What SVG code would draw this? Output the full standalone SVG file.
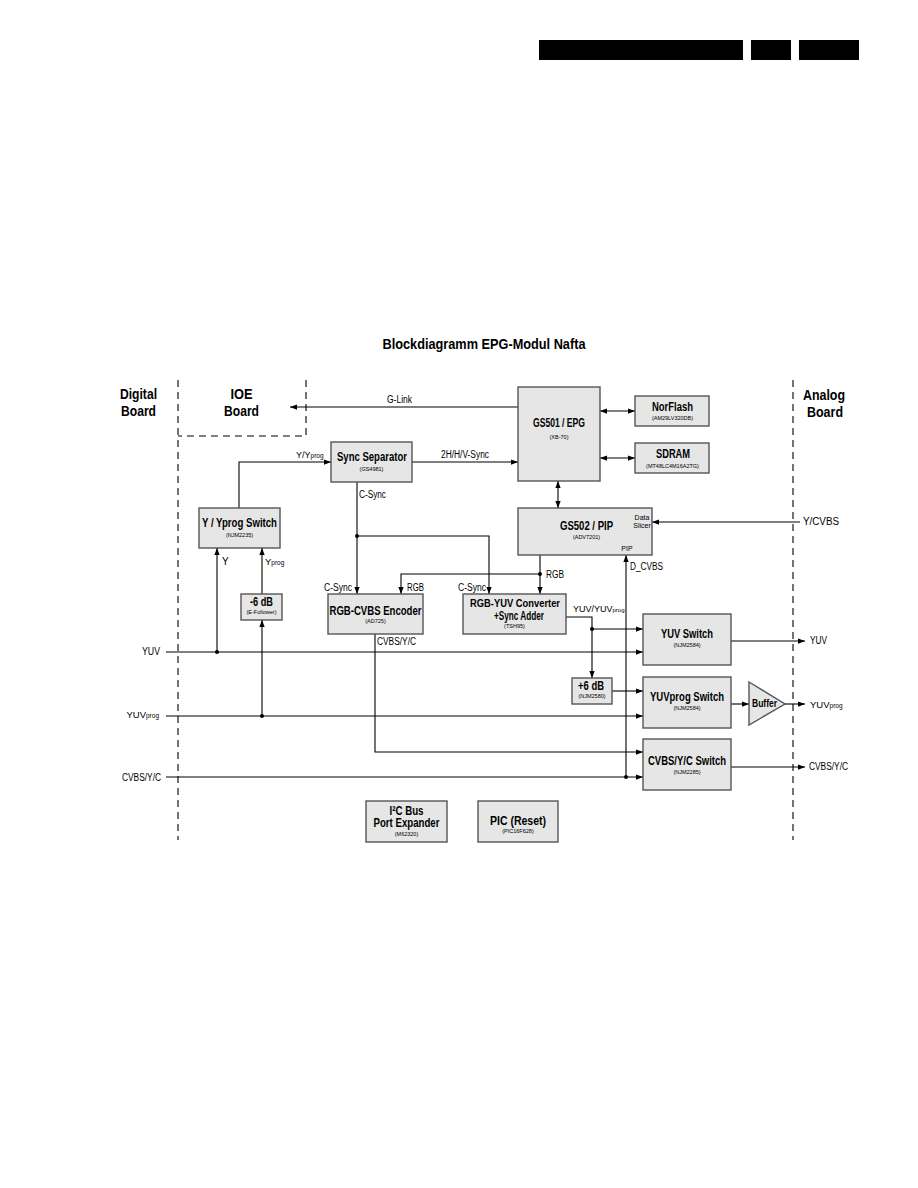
<svg xmlns="http://www.w3.org/2000/svg" width="918" height="1188" viewBox="0 0 918 1188">
<style>
.bx{fill:#e6e6e6;stroke:#555;stroke-width:1.4}
.ln{fill:none;stroke:#000;stroke-width:1.1}
.ar{marker-end:url(#ah)}
.da{marker-end:url(#ah);marker-start:url(#ah)}
.dash{fill:none;stroke:#000;stroke-width:1.1;stroke-dasharray:7,5}
.t{font-family:"Liberation Sans",Arial,sans-serif;font-weight:bold;font-size:12px;fill:#000;text-anchor:middle}
.p{font-family:"Liberation Sans",Arial,sans-serif;font-size:5.5px;fill:#000;text-anchor:middle}
.l{font-family:"Liberation Sans",Arial,sans-serif;font-size:10px;fill:#000}
.s{font-size:6.5px;fill:#000}
.h{font-family:"Liberation Sans",Arial,sans-serif;font-weight:bold;font-size:14.5px;fill:#000;text-anchor:middle}
</style>
<defs>
<marker id="ah" viewBox="0 0 8 6" refX="8" refY="3" markerWidth="7" markerHeight="5.5" markerUnits="userSpaceOnUse" orient="auto-start-reverse"><path d="M0,0 L8,3 L0,6 z" fill="#000"/></marker>
</defs>
<rect width="918" height="1188" fill="#fff"/>
<g id="header">
<rect x="539" y="40" width="204" height="20" fill="#000"/>
<rect x="751" y="40" width="40" height="20" fill="#000"/>
<rect x="799" y="40" width="60" height="20" fill="#000"/>
<text class="h" x="484" y="349" textLength="203" lengthAdjust="spacingAndGlyphs" style="font-size:14px">Blockdiagramm EPG-Modul Nafta</text>
</g>
<g id="boards">
<path class="dash" d="M178,380 V840"/>
<path class="dash" d="M306,380 V436 H178"/>
<path class="dash" d="M793,380 V840"/>
<text class="h" x="138.5" y="399" textLength="37" lengthAdjust="spacingAndGlyphs">Digital</text>
<text class="h" x="138.5" y="416" textLength="35" lengthAdjust="spacingAndGlyphs">Board</text>
<text class="h" x="241.5" y="399" textLength="22" lengthAdjust="spacingAndGlyphs">IOE</text>
<text class="h" x="241.5" y="416" textLength="35" lengthAdjust="spacingAndGlyphs">Board</text>
<text class="h" x="824" y="400" textLength="42" lengthAdjust="spacingAndGlyphs">Analog</text>
<text class="h" x="825" y="417" textLength="36" lengthAdjust="spacingAndGlyphs">Board</text>
</g>
<g id="connectors">
<path class="ln ar" d="M518,407 H290"/>
<path class="ln ar" d="M412,462 H518"/>
<path class="ln ar" d="M239,508 V462 H331"/>
<path class="ln da" d="M600,411 H635"/>
<path class="ln da" d="M600,458 H635"/>
<path class="ln da" d="M558,481 V508"/>
<path class="ln ar" d="M357,482 V594"/>
<path class="ln ar" d="M357,536 H489 V594"/>
<path class="ln ar" d="M540,555 V594"/>
<path class="ln ar" d="M540,574 H401 V594"/>
<path class="ln ar" d="M800,522 H652"/>
<path class="ln ar" d="M217,652 V548"/>
<path class="ln ar" d="M262,594 V548"/>
<path class="ln ar" d="M262,716 V620"/>
<path class="ln ar" d="M166,652 H643"/>
<path class="ln ar" d="M166,716 H643"/>
<path class="ln ar" d="M166,777 H643"/>
<path class="ln ar" d="M375,634 V752 H643"/>
<path class="ln ar" d="M626,777 V555"/>
<path class="ln ar" d="M566,617 H592 V678"/>
<path class="ln ar" d="M592,629 H643"/>
<path class="ln ar" d="M612,691 H643"/>
<path class="ln ar" d="M731,641 H805"/>
<path class="ln ar" d="M731,704 H749"/>
<path class="ln ar" d="M785,704 H805"/>
<path class="ln ar" d="M731,767 H805"/>
<circle cx="357" cy="536" r="2"/>
<circle cx="540" cy="574" r="2"/>
<circle cx="592" cy="629" r="2"/>
<circle cx="217" cy="652" r="2"/>
<circle cx="262" cy="716" r="2"/>
<circle cx="626" cy="777" r="2"/>
</g>
<g id="labels">
<text class="l" x="399.5" y="403" text-anchor="middle" textLength="25" lengthAdjust="spacingAndGlyphs">G-Link</text>
<text class="l" x="441" y="458" textLength="48" lengthAdjust="spacingAndGlyphs">2H/H/V-Sync</text>
<text class="l" x="296" y="458" style="font-size:9px">Y/Y<tspan class="s">prog</tspan></text>
<text class="l" x="359" y="498" textLength="27" lengthAdjust="spacingAndGlyphs">C-Sync</text>
<text class="l" x="222" y="565">Y</text>
<text class="l" x="265" y="565" style="font-size:9.5px">Y<tspan class="s">prog</tspan></text>
<text class="l" x="324" y="591" textLength="28" lengthAdjust="spacingAndGlyphs">C-Sync</text>
<text class="l" x="407" y="591" textLength="17" lengthAdjust="spacingAndGlyphs">RGB</text>
<text class="l" x="458" y="591" textLength="28" lengthAdjust="spacingAndGlyphs">C-Sync</text>
<text class="l" x="546" y="578" textLength="18" lengthAdjust="spacingAndGlyphs">RGB</text>
<text class="l" x="630" y="570" textLength="33" lengthAdjust="spacingAndGlyphs">D_CVBS</text>
<text class="l" x="803" y="525" textLength="36" lengthAdjust="spacingAndGlyphs">Y/CVBS</text>
<text class="l" x="573" y="612" style="font-size:9px">YUV/YUV<tspan class="s" style="font-size:6px">prog</tspan></text>
<text class="l" x="377" y="645" textLength="39" lengthAdjust="spacingAndGlyphs">CVBS/Y/C</text>
<text class="l" x="160" y="655" text-anchor="end" textLength="18" lengthAdjust="spacingAndGlyphs">YUV</text>
<text class="l" x="159" y="718" text-anchor="end" style="font-size:9.5px">YUV<tspan class="s" style="font-size:6.5px">prog</tspan></text>
<text class="l" x="161" y="781" text-anchor="end" textLength="39" lengthAdjust="spacingAndGlyphs">CVBS/Y/C</text>
<text class="l" x="810" y="644" textLength="17" lengthAdjust="spacingAndGlyphs">YUV</text>
<text class="l" x="810" y="708" style="font-size:9.5px">YUV<tspan class="s" style="font-size:6.5px">prog</tspan></text>
<text class="l" x="809" y="770" textLength="39" lengthAdjust="spacingAndGlyphs">CVBS/Y/C</text>
</g>
<g id="gs501">
<rect class="bx" x="518" y="387" width="82" height="94"/>
<text class="t" x="559" y="427" textLength="52" lengthAdjust="spacingAndGlyphs">GS501 / EPG</text>
<text class="p" x="559" y="439">(XB-70)</text>
</g>
<g id="norflash">
<rect class="bx" x="635" y="396" width="74" height="30"/>
<text class="t" x="672.5" y="411" textLength="41" lengthAdjust="spacingAndGlyphs">NorFlash</text>
<text class="p" x="672.5" y="420">(AM29LV320DB)</text>
</g>
<g id="sdram">
<rect class="bx" x="635" y="443" width="74" height="30"/>
<text class="t" x="673" y="458" textLength="34" lengthAdjust="spacingAndGlyphs">SDRAM</text>
<text class="p" x="672.5" y="468">(MT48LC4M16A2TG)</text>
</g>
<g id="sync-separator">
<rect class="bx" x="331" y="442" width="81" height="40"/>
<text class="t" x="372" y="461" textLength="70" lengthAdjust="spacingAndGlyphs">Sync Separator</text>
<text class="p" x="371.5" y="471">(GS4981)</text>
</g>
<g id="y-yprog-switch">
<rect class="bx" x="199" y="508" width="81" height="40"/>
<text class="t" x="239.5" y="527" textLength="75" lengthAdjust="spacingAndGlyphs">Y / Yprog Switch</text>
<text class="p" x="239.5" y="537">(NJM2235)</text>
</g>
<g id="gs502">
<rect class="bx" x="518" y="508" width="134" height="47"/>
<text class="t" x="586.5" y="530" textLength="53" lengthAdjust="spacingAndGlyphs">GS502 / PIP</text>
<text class="p" x="586.5" y="539">(ADV7201)</text>
<text class="l" x="642" y="520" text-anchor="middle" style="font-size:7px">Data</text>
<text class="l" x="642" y="528" text-anchor="middle" style="font-size:7px">Slicer</text>
<text class="l" x="627" y="551" text-anchor="middle" style="font-size:7px">PIP</text>
</g>
<g id="minus6db">
<rect class="bx" x="241" y="594" width="41" height="26"/>
<text class="t" x="261.5" y="606" textLength="23" lengthAdjust="spacingAndGlyphs">-6 dB</text>
<text class="p" x="261.5" y="614">(E-Follower)</text>
</g>
<g id="rgb-cvbs-encoder">
<rect class="bx" x="328" y="594" width="95" height="40"/>
<text class="t" x="375.5" y="615" textLength="92" lengthAdjust="spacingAndGlyphs">RGB-CVBS Encoder</text>
<text class="p" x="375.5" y="623">(AD725)</text>
</g>
<g id="rgb-yuv-converter">
<rect class="bx" x="463" y="594" width="103" height="40"/>
<text class="t" x="515" y="607" textLength="90" lengthAdjust="spacingAndGlyphs" style="font-size:10.5px">RGB-YUV Converter</text>
<text class="t" x="519" y="620" textLength="50" lengthAdjust="spacingAndGlyphs">+Sync Adder</text>
<text class="p" x="514.5" y="628">(TSH95)</text>
</g>
<g id="yuv-switch">
<rect class="bx" x="643" y="614" width="88" height="51"/>
<text class="t" x="687" y="638" textLength="52" lengthAdjust="spacingAndGlyphs">YUV Switch</text>
<text class="p" x="687" y="647">(NJM2584)</text>
</g>
<g id="plus6db">
<rect class="bx" x="572" y="678" width="40" height="26"/>
<text class="t" x="591" y="690" textLength="26" lengthAdjust="spacingAndGlyphs">+6 dB</text>
<text class="p" x="592" y="698">(NJM2580)</text>
</g>
<g id="yuvprog-switch">
<rect class="bx" x="643" y="677" width="88" height="51"/>
<text class="t" x="687" y="701" textLength="74" lengthAdjust="spacingAndGlyphs">YUVprog Switch</text>
<text class="p" x="687" y="710">(NJM2584)</text>
</g>
<g id="buffer">
<path class="bx" d="M749,682 L785,704 L749,725 z"/>
<text class="t" x="764.5" y="707" textLength="25" lengthAdjust="spacingAndGlyphs" style="font-size:10px">Buffer</text>
</g>
<g id="cvbs-yc-switch">
<rect class="bx" x="643" y="739" width="88" height="51"/>
<text class="t" x="687" y="765" textLength="78" lengthAdjust="spacingAndGlyphs">CVBS/Y/C Switch</text>
<text class="p" x="687" y="774">(NJM2285)</text>
</g>
<g id="i2c-expander">
<rect class="bx" x="366" y="801" width="81" height="41"/>
<text class="t" x="406.5" y="815" textLength="34" lengthAdjust="spacingAndGlyphs">I²C Bus</text>
<text class="t" x="406.5" y="827" textLength="66" lengthAdjust="spacingAndGlyphs">Port Expander</text>
<text class="p" x="406.5" y="836">(M62320)</text>
</g>
<g id="pic-reset">
<rect class="bx" x="478" y="801" width="80" height="41"/>
<text class="t" x="518" y="825" textLength="56" lengthAdjust="spacingAndGlyphs">PIC (Reset)</text>
<text class="p" x="518" y="833">(PIC16F628)</text>
</g>
</svg>
